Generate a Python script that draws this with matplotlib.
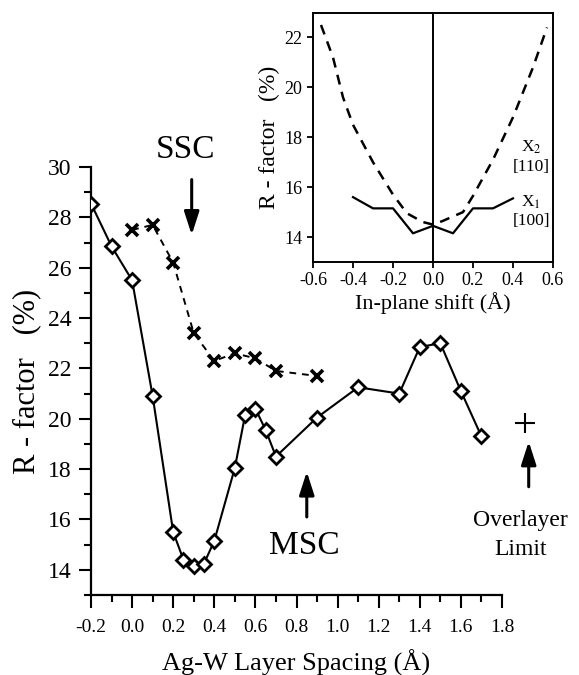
import matplotlib
matplotlib.use("Agg")
import matplotlib.pyplot as plt
from matplotlib.ticker import MultipleLocator

plt.rcParams['font.family'] = ['Liberation Serif', 'DejaVu Serif']
plt.rcParams['axes.unicode_minus'] = False
plt.rcParams['mathtext.fontset'] = 'stix'

# ---- main panel data ----
msc_x = [-0.2, -0.1, 0.0, 0.1, 0.2, 0.25, 0.3, 0.35, 0.4, 0.5, 0.55, 0.6, 0.65, 0.7,
         0.9, 1.1, 1.3, 1.4, 1.5, 1.6, 1.7]
msc_y = [28.55, 26.85, 25.5, 20.9, 15.5, 14.4, 14.15, 14.25, 15.15, 18.05, 20.15, 20.4,
         19.55, 18.5, 20.05, 21.25, 21.0, 22.85, 23.0, 21.1, 19.3]

ssc_x = [0.0, 0.1, 0.2, 0.3, 0.4, 0.5, 0.6, 0.7, 0.9]
ssc_y = [27.5, 27.7, 26.2, 23.4, 22.3, 22.6, 22.4, 21.9, 21.7]

overlayer_x = [1.91]
overlayer_y = [19.85]

main_xticks = [-0.2, 0.0, 0.2, 0.4, 0.6, 0.8, 1.0, 1.2, 1.4, 1.6, 1.8]
main_xticklabels = ["-0.2", "0.0", "0.2", "0.4", "0.6", "0.8", "1.0", "1.2", "1.4", "1.6", "1.8"]
main_yticks = [14, 16, 18, 20, 22, 24, 26, 28, 30]

# ---- inset data ----
x1_x = [-0.4, -0.3, -0.2, -0.1, 0.0, 0.1, 0.2, 0.3, 0.4]
x1_y = [15.6, 15.15, 15.15, 14.15, 14.45, 14.15, 15.15, 15.15, 15.55]

x2_x = [-0.56, -0.5, -0.45, -0.4, -0.3, -0.2, -0.13, -0.05, 0.0, 0.05, 0.15, 0.2,
        0.3, 0.4, 0.5, 0.57]
x2_y = [22.5, 21.2, 19.6, 18.5, 17.0, 15.7, 14.95, 14.6, 14.5, 14.65, 15.0, 15.65,
        17.1, 18.8, 20.8, 22.4]

inset_xticks = [-0.6, -0.4, -0.2, 0.0, 0.2, 0.4, 0.6]
inset_xticklabels = ["-0.6", "-0.4", "-0.2", "0.0", "0.2", "0.4", "0.6"]
inset_yticks = [14, 16, 18, 20, 22]

fig = plt.figure(figsize=(5.79, 6.75), dpi=100)

# ---------------- main axes ----------------
ax = fig.add_axes([91/579, 1 - 595/675, (502-91)/579, (595-167)/675])
ax.plot(msc_x, msc_y, '-', color='black', lw=1.5, marker='D', ms=7.5,
        mfc='white', mec='black', mew=2.0, zorder=3)
ax.plot(ssc_x, ssc_y, linestyle=(0, (3.5, 3)), color='black', lw=1.4, marker='x',
        ms=9, mew=2.6, zorder=3)
ax.plot(overlayer_x, overlayer_y, '+', color='black', ms=15, mew=1.5, clip_on=False)

ax.set_xlim(-0.2, 1.8)
ax.set_ylim(13, 30)
for s in ['top', 'right']:
    ax.spines[s].set_visible(False)
for s in ['left', 'bottom']:
    ax.spines[s].set_linewidth(1.6)

ax.set_xticks(main_xticks)
ax.set_xticklabels(main_xticklabels)
ax.xaxis.set_minor_locator(MultipleLocator(0.1))
ax.set_yticks(main_yticks)
ax.yaxis.set_minor_locator(MultipleLocator(1))
ax.tick_params(axis='both', which='major', direction='out', length=9, width=1.5,
               labelsize=14)
ax.tick_params(axis='both', which='minor', direction='out', length=5, width=1.5)
ax.tick_params(axis='x', which='major', pad=8)
ax.tick_params(axis='y', which='major', labelsize=17, pad=5)

ax.set_xlabel("Ag-W Layer Spacing (Å)", fontsize=19, labelpad=10)
ax.set_ylabel("R - factor   (%)", fontsize=22, labelpad=5)

arrow_kw = dict(arrowstyle='-|>,head_length=1.4,head_width=0.45', color='black',
                lw=2.2, shrinkA=0, shrinkB=0)
ax.annotate('', xy=(0.29, 27.3), xytext=(0.29, 29.5), arrowprops=arrow_kw,
            annotation_clip=False)
ax.annotate('', xy=(0.85, 17.9), xytext=(0.85, 16.1), arrowprops=arrow_kw)
ax.annotate('', xy=(1.93, 19.1), xytext=(1.93, 17.3), arrowprops=arrow_kw,
            annotation_clip=False)

ax.text(0.26, 30.7, "SSC", fontsize=24, ha='center', va='center')
ax.text(0.84, 14.95, "MSC", fontsize=24, ha='center', va='center')
ax.text(1.89, 15.95, "Overlayer", fontsize=17, ha='center', va='center')
ax.text(1.89, 14.8, "Limit", fontsize=17, ha='center', va='center')

# ---------------- inset axes ----------------
axi = fig.add_axes([313/579, 1 - 262/675, 240/579, (262-12.5)/675])
axi.plot(x2_x, x2_y, linestyle=(0, (4, 3)), color='black', lw=1.8)
axi.plot(x1_x, x1_y, '-', color='black', lw=1.6)
axi.axvline(0.0, color='black', lw=1.4)
axi.set_xlim(-0.6, 0.6)
axi.set_ylim(13, 23)
axi.set_xticks(inset_xticks)
axi.set_xticklabels(inset_xticklabels)
axi.set_yticks(inset_yticks)
for s in axi.spines.values():
    s.set_linewidth(1.4)
axi.tick_params(axis='both', direction='out', length=4, width=1.3, labelsize=13)
axi.set_xlabel("In-plane shift (Å)", fontsize=16, labelpad=2)
axi.set_ylabel("R - factor   (%)", fontsize=17, labelpad=3)

axi.text(0.49, 17.6, "X$_2$", fontsize=12.5, ha='center', va='center')
axi.text(0.49, 16.8, "[110]", fontsize=12.5, ha='center', va='center')
axi.text(0.49, 15.4, "X$_1$", fontsize=12.5, ha='center', va='center')
axi.text(0.49, 14.65, "[100]", fontsize=12.5, ha='center', va='center')

fig.savefig("out.png", dpi=100)
